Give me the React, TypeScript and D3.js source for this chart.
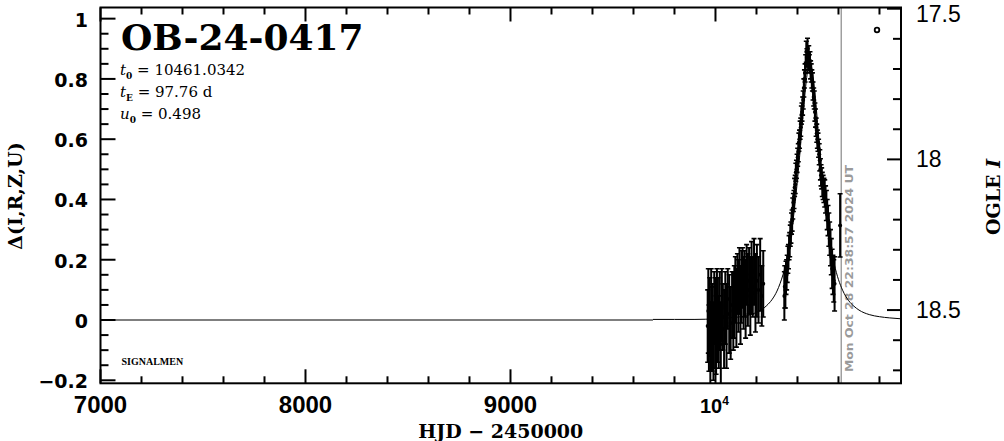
import React from 'react';
import * as d3 from 'd3';

// ---------- data ----------
const X_DOMAIN = [7000, 10905];
const Y_DOMAIN = [-0.21, 1.037];
const I_BASE = 18.533;

const X_MAJOR = [7000, 8000, 9000, 10000];
const X_LABELS = ['7000', '8000', '9000', '10'];
const Y_MAJOR = [-0.2, 0, 0.2, 0.4, 0.6, 0.8, 1];
const Y_LABELS = ['\u22120.2', '0', '0.2', '0.4', '0.6', '0.8', '1'];
const I_MAJOR = [17.5, 18, 18.5];
const I_LABELS = ['17.5', '18', '18.5'];

const TITLE = 'OB-24-0417';
const PARAM_NAMES = ['t', 't', 'u'];
const PARAM_SUBS = ['0', 'E', '0'];
const PARAM_VALUES = ['10461.0342', '97.76 d', '0.498'];
const STAMP = 'Mon Oct 28 22:38:57 2024 UT';
const T_NOW = 10613.5;

const BASE_T = [7000, 9695];
const BASE_D = [0, 0];

const MODEL_T = [9695, 9800, 9900, 10000, 10100, 10150, 10200, 10225, 10250, 10275, 10300, 10315, 10330, 10340, 10350, 10360, 10370, 10380, 10390, 10400, 10410, 10420, 10430, 10440, 10450, 10461, 10470, 10480, 10490, 10500, 10510, 10520, 10530, 10540, 10550, 10560, 10570, 10580, 10590, 10600, 10620, 10650, 10675, 10700, 10750, 10800, 10850, 10905];
const MODEL_D = [0.002, 0.002, 0.002, 0.004, 0.009, 0.014, 0.025, 0.034, 0.048, 0.067, 0.096, 0.121, 0.152, 0.178, 0.209, 0.246, 0.289, 0.339, 0.398, 0.465, 0.539, 0.620, 0.701, 0.775, 0.829, 0.851, 0.836, 0.787, 0.717, 0.636, 0.555, 0.479, 0.410, 0.350, 0.298, 0.254, 0.216, 0.184, 0.157, 0.134, 0.099, 0.064, 0.046, 0.033, 0.018, 0.011, 0.007, 0.004];

const OBS_T = [
  9962, 9965, 9968, 9972, 9975, 9979, 9983, 9986, 9990, 9994, 9998, 10003, 10007, 10012, 10016, 10021, 10026, 10031, 10036, 10042, 10048, 10054, 10060, 10067, 10074, 10081, 10087,
  10092, 10097, 10102, 10107, 10112, 10117, 10122, 10127, 10132, 10137, 10142, 10147, 10152, 10158, 10164, 10170, 10176, 10182, 10188, 10195, 10202, 10210, 10218, 10226, 10233,
  10336, 10338, 10341, 10344, 10347, 10350, 10353, 10356, 10359, 10362, 10365, 10368, 10371, 10374, 10377, 10380, 10383, 10386, 10389, 10392, 10395, 10398, 10401, 10404, 10407, 10410, 10413, 10416, 10419, 10422, 10425, 10428, 10431, 10434, 10437, 10440, 10443, 10446, 10449, 10452, 10455, 10458, 10461, 10464, 10467, 10470, 10473, 10476, 10479, 10482, 10485, 10488, 10491, 10494, 10497, 10500, 10503, 10506, 10509, 10512, 10515, 10518, 10521, 10525, 10529, 10533, 10537, 10541, 10545, 10549, 10553, 10557, 10561, 10565, 10569, 10573, 10577, 10581,
  10608
];
const OBS_D = [
  -0.02, 0.03, -0.06, 0.01, -0.09, 0.05, -0.03, 0.02, -0.07, 0.04, -0.01, -0.05, 0.06, 0.00, -0.04, 0.03, -0.08, 0.05, 0.01, -0.03, 0.04, -0.02, 0.07, 0.02, -0.01, 0.05, 0.03,
  0.06, 0.10, 0.04, 0.12, 0.08, 0.13, 0.05, 0.11, 0.14, 0.09, 0.12, 0.07, 0.15, 0.10, 0.13, 0.08, 0.14, 0.11, 0.16, 0.09, 0.13, 0.10, 0.15, 0.08, 0.12,
  0.08, 0.11, 0.10, 0.14, 0.15, 0.17, 0.20, 0.21, 0.24, 0.25, 0.28, 0.29, 0.32, 0.33, 0.37, 0.39, 0.40, 0.44, 0.45, 0.49, 0.50, 0.52, 0.54, 0.555, 0.59, 0.60, 0.63, 0.64, 0.68, 0.69, 0.71, 0.73, 0.77, 0.80, 0.82, 0.85, 0.89, 0.87, 0.90, 0.86, 0.88, 0.85, 0.86, 0.83, 0.82, 0.80, 0.79, 0.76, 0.74, 0.73, 0.69, 0.67, 0.64, 0.62, 0.60, 0.59, 0.57, 0.55, 0.53, 0.50, 0.48, 0.47, 0.45, 0.44, 0.43, 0.42, 0.40, 0.38, 0.35, 0.33, 0.30, 0.27, 0.24, 0.21, 0.17, 0.15, 0.13, 0.12,
  0.314
];
const OBS_E = [
  0.12, 0.14, 0.11, 0.13, 0.15, 0.12, 0.14, 0.10, 0.13, 0.12, 0.15, 0.13, 0.11, 0.14, 0.12, 0.13, 0.14, 0.12, 0.11, 0.13, 0.12, 0.14, 0.10, 0.13, 0.12, 0.11, 0.13,
  0.12, 0.11, 0.13, 0.10, 0.12, 0.11, 0.13, 0.12, 0.10, 0.12, 0.11, 0.13, 0.10, 0.12, 0.11, 0.13, 0.12, 0.10, 0.11, 0.13, 0.12, 0.11, 0.12, 0.10, 0.11,
  0.08, 0.07, 0.06, 0.055, 0.05, 0.045, 0.045, 0.04, 0.04, 0.04, 0.035, 0.035, 0.035, 0.035, 0.035, 0.03, 0.03, 0.03, 0.03, 0.03, 0.03, 0.03, 0.03, 0.03, 0.03, 0.03, 0.03, 0.03, 0.03, 0.03, 0.03, 0.03, 0.03, 0.03, 0.03, 0.03, 0.035, 0.03, 0.035, 0.03, 0.03, 0.03, 0.03, 0.03, 0.03, 0.03, 0.03, 0.03, 0.03, 0.03, 0.03, 0.03, 0.03, 0.03, 0.03, 0.03, 0.03, 0.035, 0.035, 0.035, 0.035, 0.035, 0.04, 0.04, 0.04, 0.045, 0.045, 0.05, 0.05, 0.05, 0.055, 0.055, 0.06, 0.06, 0.065, 0.065, 0.07, 0.09,
  0.105
];

// ---------- layout ----------
const W = 1004;
const H = 441;
const L = 100.5, R = 901, T = 7.5, B = 383.3;

export default function App() {
  const x = d3.scaleLinear().domain(X_DOMAIN).range([L, R]);
  const y = d3.scaleLinear().domain(Y_DOMAIN).range([B, T]);
  const yi = d3.scaleLinear().domain([I_BASE - Y_DOMAIN[0], I_BASE - Y_DOMAIN[1]]).range([B, T]);

  const xMinor = d3.range(7000, 10901, 200);
  const yMinor = d3.range(-0.2, 1.0001, 0.05);
  const iMinor = d3.range(17.5, 18.75, 0.1);

  const line = d3.line<number>().x((d, i) => x(MODEL_T[i])).y((d) => y(d)).curve(d3.curveMonotoneX);
  const baseLine = d3.line<number>().x((d, i) => x(BASE_T[i])).y((d) => y(d));

  const black = '#000';
  const gray = '#9a9a9a';
  const serif = 'DejaVu Serif';

  return (
    <svg width={W} height={H} style={{ position: 'absolute', left: 0, top: 0, background: '#fff' }}>
      <defs>
        <clipPath id="plot"><rect x={L} y={T} width={R - L} height={B - T} /></clipPath>
      </defs>
      <rect x={0} y={0} width={W} height={H} fill="#fff" />

      {/* now line */}
      <line x1={x(T_NOW)} x2={x(T_NOW)} y1={T} y2={B} stroke={gray} strokeWidth={1.4} />
      <text transform={`translate(${x(T_NOW) + 12},268.5) rotate(-90)`} textAnchor="middle"
        fontFamily="DejaVu Sans" fontWeight="bold" fontSize={11} fill={gray} textLength={207} lengthAdjust="spacingAndGlyphs">{STAMP}</text>

      <g clipPath="url(#plot)">
        <path d={baseLine(BASE_D) || ''} fill="none" stroke={black} strokeWidth={1.1} />
        <path d={line(MODEL_D) || ''} fill="none" stroke={black} strokeWidth={1} />
        {OBS_T.map((t, i) => {
          const cx = x(t);
          const y1 = y(OBS_D[i] - OBS_E[i]);
          const y2 = y(OBS_D[i] + OBS_E[i]);
          return (
            <g key={i}>
              <line x1={cx} x2={cx} y1={y1} y2={y2} stroke={black} strokeWidth={2} />
              <line x1={cx - 2.5} x2={cx + 2.5} y1={y1} y2={y1} stroke={black} strokeWidth={1.6} />
              <line x1={cx - 2.5} x2={cx + 2.5} y1={y2} y2={y2} stroke={black} strokeWidth={1.6} />
              <circle cx={cx} cy={y(OBS_D[i])} r={2} fill={black} />
            </g>
          );
        })}
      </g>

      {/* frame */}
      <rect x={L} y={T} width={R - L} height={B - T} fill="none" stroke={black} strokeWidth={2} />

      {/* x ticks */}
      {xMinor.map((v) => {
        const major = X_MAJOR.includes(v);
        const len = major ? 14 : 7;
        return (
          <g key={'x' + v}>
            <line x1={x(v)} x2={x(v)} y1={B} y2={B - len} stroke={black} strokeWidth={2} />
            <line x1={x(v)} x2={x(v)} y1={T} y2={T + len} stroke={black} strokeWidth={2} />
          </g>
        );
      })}
      {X_MAJOR.map((v, i) =>
        v === 10000 ? (
          <text key={'xl' + v} x={x(v) - 15.5} y={412.7} fontFamily="Liberation Sans" fontWeight="bold" fontSize={20} fill={black}>
            {X_LABELS[i]}
            <tspan dy={-8} fontSize={12}>4</tspan>
          </text>
        ) : (
          <text key={'xl' + v} x={x(v)} y={412.7} textAnchor="middle" fontFamily="Liberation Sans" fontWeight="bold" fontSize={24} fill={black}>
            {X_LABELS[i]}
          </text>
        )
      )}

      {/* left y ticks */}
      {yMinor.map((v, i) => {
        const major = i % 4 === 0;
        const len = major ? 15 : 8;
        return <line key={'y' + i} x1={L} x2={L + len} y1={y(v)} y2={y(v)} stroke={black} strokeWidth={2} />;
      })}
      {Y_MAJOR.map((v, i) => (
        <text key={'yl' + i} x={88} y={y(v) + 8} textAnchor="end" fontFamily="DejaVu Sans" fontWeight="bold" fontSize={19} fill={black}>
          {Y_LABELS[i]}
        </text>
      ))}

      {/* right I ticks */}
      {iMinor.map((v, i) => {
        const major = i % 5 === 0;
        const len = major ? 14 : 8;
        return <line key={'i' + i} x1={R} x2={R - len} y1={yi(v)} y2={yi(v)} stroke={black} strokeWidth={2} />;
      })}
      {I_MAJOR.map((v, i) => (
        <text key={'il' + i} x={916} y={Math.max(yi(v) + 8, 21.5)} fontFamily="Liberation Sans" fontSize={23} fill={black}>
          {I_LABELS[i]}
        </text>
      ))}

      {/* axis titles */}
      <text x={(L + R) / 2} y={438} textAnchor="middle" fontFamily={serif} fontWeight="bold" fontSize={19} fill={black}>
        HJD {'\u2212'} 2450000
      </text>
      <text transform={`translate(22,196) rotate(-90)`} textAnchor="middle" fontFamily={serif} fontWeight="bold" fontSize={19} fill={black}>
        {'\u0394(I,R,Z,U)'}
      </text>
      <text transform={`translate(1000,197) rotate(-90)`} textAnchor="middle" fontFamily={serif} fontWeight="bold" fontSize={19} fill={black}>
        OGLE <tspan fontStyle="italic">I</tspan>
      </text>

      {/* title and params */}
      <text x={121} y={50} fontFamily={serif} fontWeight="bold" fontSize={36} fill={black}>{TITLE}</text>
      {PARAM_NAMES.map((n, i) => (
        <text key={'p' + i} x={120} y={75 + i * 22} fontFamily={serif} fontSize={15} fill={black}>
          <tspan fontStyle="italic">{n}</tspan>
          <tspan dy={4} fontSize={9} fontWeight="bold">{PARAM_SUBS[i]}</tspan>
          <tspan dy={-4}>{' = ' + PARAM_VALUES[i]}</tspan>
        </text>
      ))}
      <text x={121.5} y={365} fontFamily="Liberation Serif" fontWeight="bold" fontSize={10} fill={black}>SIGNALMEN</text>

      {/* marker */}
      <circle cx={877} cy={30} r={2.3} fill="none" stroke={black} strokeWidth={1.8} />
    </svg>
  );
}
